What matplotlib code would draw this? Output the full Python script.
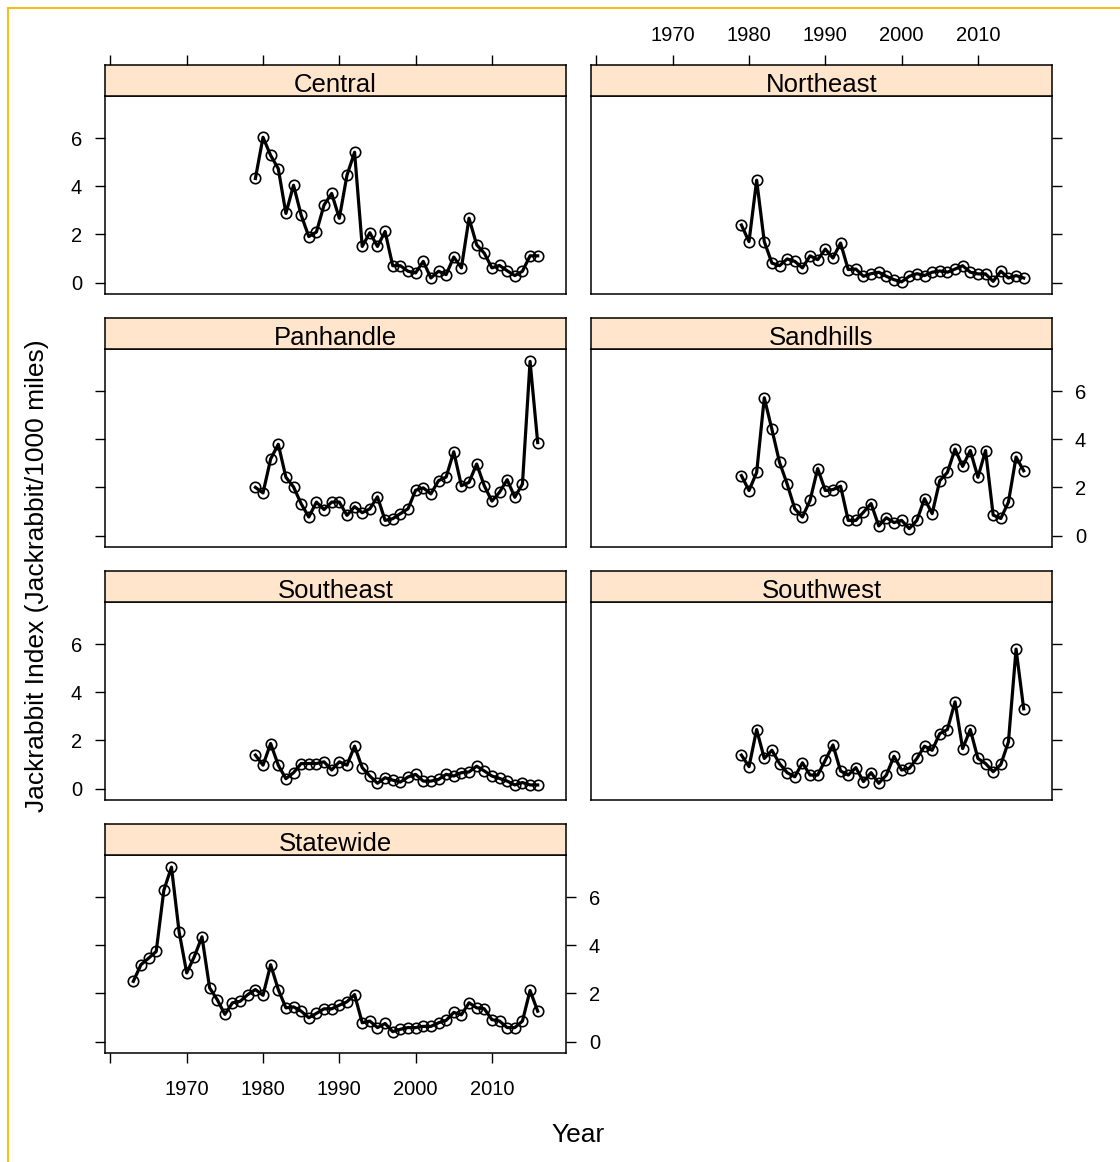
import matplotlib
matplotlib.use("Agg")
import matplotlib.pyplot as plt

plt.rcParams["font.family"] = ["Liberation Sans", "DejaVu Sans"]

# Data ...
years_region = list(range(1979, 2017))
years_state = list(range(1963, 2017))

central = [4.32, 6.03, 5.28, 4.73, 2.87, 4.04, 2.80, 1.91, 2.10, 3.22,
           3.70, 2.67, 4.45, 5.41, 1.50, 2.07, 1.50, 2.12, 0.70, 0.70,
           0.47, 0.40, 0.88, 0.19, 0.47, 0.33, 1.06, 0.61, 2.67, 1.57,
           1.22, 0.61, 0.71, 0.49, 0.29, 0.47, 1.11, 1.11]
northeast = [2.39, 1.70, 4.25, 1.70, 0.81, 0.70, 0.98, 0.88, 0.61, 1.11,
             0.95, 1.39, 1.02, 1.64, 0.54, 0.56, 0.26, 0.37, 0.43, 0.26,
             0.12, 0.03, 0.26, 0.37, 0.29, 0.43, 0.48, 0.43, 0.56, 0.70,
             0.43, 0.36, 0.36, 0.05, 0.47, 0.19, 0.29, 0.19]
panhandle = [2.00, 1.77, 3.18, 3.79, 2.42, 2.02, 1.32, 0.77, 1.39, 1.08,
             1.39, 1.39, 0.84, 1.20, 0.95, 1.11, 1.61, 0.63, 0.70, 0.91,
             1.11, 1.88, 1.98, 1.73, 2.28, 2.43, 3.48, 2.07, 2.21, 2.97,
             2.07, 1.43, 1.80, 2.32, 1.59, 2.14, 7.23, 3.86]
sandhills = [2.49, 1.87, 2.62, 5.72, 4.41, 3.04, 2.14, 1.11, 0.77, 1.46,
             2.78, 1.87, 1.91, 2.05, 0.63, 0.63, 0.97, 1.33, 0.40, 0.74,
             0.54, 0.63, 0.29, 0.63, 1.53, 0.91, 2.28, 2.62, 3.59, 2.87,
             3.53, 2.42, 3.53, 0.85, 0.71, 1.39, 3.26, 2.69]
southeast = [1.39, 0.97, 1.87, 0.97, 0.41, 0.66, 1.04, 1.04, 1.04, 1.11,
             0.77, 1.11, 0.97, 1.76, 0.87, 0.52, 0.22, 0.45, 0.35, 0.27,
             0.48, 0.59, 0.31, 0.31, 0.38, 0.59, 0.52, 0.66, 0.69, 0.93,
             0.73, 0.52, 0.42, 0.31, 0.15, 0.25, 0.15, 0.15]
southwest = [1.39, 0.91, 2.45, 1.25, 1.59, 1.04, 0.66, 0.49, 1.07, 0.56,
             0.56, 1.18, 1.81, 0.73, 0.56, 0.87, 0.29, 0.66, 0.22, 0.56,
             1.34, 0.77, 0.84, 1.25, 1.76, 1.59, 2.28, 2.45, 3.60, 1.66,
             2.45, 1.25, 1.04, 0.70, 1.00, 1.94, 5.79, 3.31]
statewide = [2.50, 3.19, 3.46, 3.74, 6.28, 7.24, 4.56, 2.85, 3.53, 4.35,
             2.23, 1.74, 1.13, 1.61, 1.67, 1.95, 2.16, 1.92, 3.19, 2.16,
             1.40, 1.44, 1.26, 0.99, 1.17, 1.36, 1.36, 1.51, 1.65, 1.95,
             0.78, 0.85, 0.58, 0.75, 0.41, 0.51, 0.58, 0.58, 0.63, 0.63,
             0.78, 0.88, 1.21, 1.11, 1.61, 1.40, 1.36, 0.91, 0.85, 0.58,
             0.58, 0.85, 2.12, 1.26]

names = ["Central", "Northeast", "Panhandle", "Sandhills", "Southeast", "Southwest", "Statewide"]
series = [central, northeast, panhandle, sandhills, southeast, southwest, statewide]
xticks = [1960, 1970, 1980, 1990, 2000, 2010]
xticklabels = ["", "1970", "1980", "1990", "2000", "2010"]
yticks = [0, 2, 4, 6]

# Shared scales (lattice style 7% padding) ...
allv = [v for s in series for v in s]
lo, hi = min(allv), max(allv)
ylim = (lo - 0.07 * (hi - lo), hi + 0.07 * (hi - lo))
xlim = (1963 - 0.07 * 53, 2016 + 0.07 * 53)

W, H = 1120, 1162
fg = plt.figure(figsize=(W / 100, H / 100), dpi=100)

def box(x0, y0, x1, y1):
    return [x0 / W, 1 - y1 / H, (x1 - x0) / W, (y1 - y0) / H]

cols = [(105, 566), (591, 1052)]
tick_kw = dict(direction="out", length=7.5, width=1, labelsize=14.5)

for i, (name, vals) in enumerate(zip(names, series)):
    r, c = divmod(i, 2)
    x0, x1 = cols[c]
    stop, sbot, pbot = 65 + 253 * r, 96 + 253 * r, 294 + 253 * r
    yrs = years_state if name == "Statewide" else years_region

    ax = fg.add_axes(box(x0, sbot, x1, pbot))
    ax.plot(yrs, vals, color="black", lw=2.3, marker="o", ms=7.5, mfc="none", mec="black", mew=1.2)
    ax.set_xlim(xlim)
    ax.set_ylim(ylim)
    for sp in ax.spines.values():
        sp.set_linewidth(1.1)

    # Axis ticks, lattice alternating ...
    left = c == 0
    right = c == 1 or name == "Statewide"
    ax.set_yticks(yticks)
    ax.tick_params(axis="y", left=left, right=right, pad=9,
                   labelleft=left and r in (0, 2), labelright=right and r in (1, 3), **tick_kw)
    ax.set_xticks(xticks)
    ax.set_xticklabels(xticklabels)
    bottom = name == "Statewide"
    ax.tick_params(axis="x", bottom=bottom, top=False, labelbottom=bottom, labeltop=False, pad=12, **tick_kw)

    # Strip ...
    st = fg.add_axes(box(x0, stop, x1, sbot))
    st.set_facecolor("#FFE5CC")
    st.set_xlim(xlim)
    st.set_yticks([])
    for sp in st.spines.values():
        sp.set_linewidth(1.1)
    st.text(0.5, 0.36, name, transform=st.transAxes, ha="center", va="center", fontsize=18.5)
    if r == 0:
        st.set_xticks(xticks)
        st.set_xticklabels(xticklabels)
        st.tick_params(axis="x", bottom=False, top=True, labelbottom=False, labeltop=(c == 1), pad=7, **tick_kw)
    else:
        st.set_xticks([])

fg.text(578 / W, 1 - 1135 / H, "Year", ha="center", va="center", fontsize=19)
fg.text(37 / W, 1 - 576 / H, "Jackrabbit Index (Jackrabbit/1000 miles)", ha="center", va="center",
        rotation=90, fontsize=19)

# Frame ...
fg.add_artist(plt.Line2D([8 / W, 8 / W], [0, 1 - 8 / H], color="#F7BC1E", lw=1.5, transform=fg.transFigure))
fg.add_artist(plt.Line2D([8 / W, 1], [1 - 8 / H, 1 - 8 / H], color="#F7BC1E", lw=1.5, transform=fg.transFigure))

fg.savefig("out.png", dpi=100)
plt.close(fg)
